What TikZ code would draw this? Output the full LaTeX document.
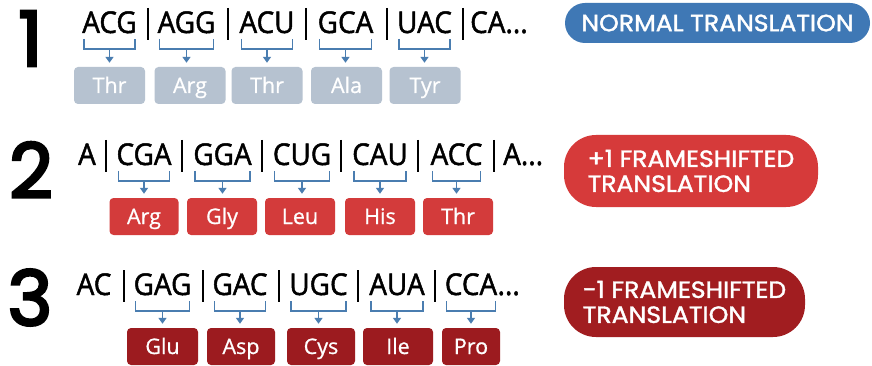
\documentclass[tikz,border=0pt]{standalone}
\usepackage{fontspec}
\setmainfont{Open Sans}
\newfontfamily\codonfont{Open Sans}[FakeBold=1.6,FakeStretch=0.93]
\newfontfamily\aafont{Open Sans}[FakeBold=0.8]
\newfontfamily\numfont{Poppins}[FakeBold=3.5]
\newfontfamily\badgefont{Poppins}[FakeBold=1.6,FakeStretch=1.07]
\usetikzlibrary{arrows.meta,calc}
\definecolor{brk}{HTML}{4A7DB0}
\definecolor{boxA}{HTML}{B6C2D0}
\definecolor{boxB}{HTML}{D33B3B}
\definecolor{boxC}{HTML}{9C1B1F}
\definecolor{badgeA}{HTML}{3F78B5}
\definecolor{badgeB}{HTML}{D63A3A}
\definecolor{badgeC}{HTML}{A11D20}
\tikzset{
  codon/.style={anchor=base,inner sep=0pt,font=\codonfont\fontsize{30}{32}\selectfont},
  sepbar/.style={line width=1.5pt,black},
  br/.style={draw=brk,line width=1.5pt},
  aa/.style={rounded corners=4pt,minimum width=71pt,minimum height=37pt,inner sep=0pt,
    text=white,text height=15pt,text depth=0pt,font=\aafont\fontsize{21.5}{22}\selectfont},
  num/.style={font=\numfont\fontsize{76}{76}\selectfont,inner sep=0pt},
  badge/.style={text=white,align=left,inner sep=0pt,font=\badgefont\fontsize{23.5}{25}\selectfont}
}
\newcommand\codonbr[2]{%
  \draw[br] ([xshift=2pt,yshift=-6pt]#1.base west) -- ([xshift=2pt,yshift=-16pt]#1.base west)
     -- ([xshift=-2pt,yshift=-16pt]#1.base east) -- ([xshift=-2pt,yshift=-6pt]#1.base east);
  \draw[br,-{Triangle[width=8pt,length=6pt]}] ([yshift=-16pt]#1.base) -- ([yshift=4pt]#1.base |- #2.north);
}
\newcommand\sepat[2]{\draw[sepbar] (#1,#2-25) -- (#1,#2+7);}
\begin{document}
\begin{tikzpicture}[x=1pt,y=-1pt]
\useasboundingbox (0,0) rectangle (872,366);
\fill[white] (0,0) rectangle (872,366);
% numbers
\node[num] (n1) at (30.5,38.5) {1};
\node[num] (n2) at (31,170) {2};
\node[num] (n3) at (30,297.5) {3};
% ---- row 1
\node[codon] (a1) at (109.5,33) {ACG};
\node[codon] (a2) at (186.5,33) {AGG};
\node[codon] (a3) at (267,33) {ACU};
\node[codon] (a4) at (345.5,33) {GCA};
\node[codon] (a5) at (424.5,33) {UAC};
\node[codon,anchor=base west] (a6) at (470,33) {CA...};
\foreach \x in {148,228,306,387,463} {\sepat{\x}{33}}
\node[aa,fill=boxA] (p1) at (109.5,85.5) {Thr};
\node[aa,fill=boxA] (p2) at (190,85.5) {Arg};
\node[aa,fill=boxA] (p3) at (267,85.5) {Thr};
\node[aa,fill=boxA] (p4) at (346.5,85.5) {Ala};
\node[aa,fill=boxA] (p5) at (425,85.5) {Tyr};
\codonbr{a1}{p1}\codonbr{a2}{p2}\codonbr{a3}{p3}\codonbr{a4}{p4}\codonbr{a5}{p5}
% ---- row 2
\node[codon] (b0) at (87,165) {A};
\node[codon] (b1) at (144,165) {CGA};
\node[codon] (b2) at (222.5,165) {GGA};
\node[codon] (b3) at (302,165) {CUG};
\node[codon] (b4) at (380,165) {CAU};
\node[codon] (b5) at (456.5,165) {ACC};
\node[codon,anchor=base west] (b6) at (503,165) {A...};
\foreach \x in {106,182,262,341,418,494} {\sepat{\x}{165}}
\node[aa,fill=boxB,minimum width=69pt] (q1) at (144,216.5) {Arg};
\node[aa,fill=boxB,minimum width=70pt] (q2) at (222,216.5) {Gly};
\node[aa,fill=boxB,minimum width=70pt] (q3) at (300,216.5) {Leu};
\node[aa,fill=boxB,minimum width=70pt] (q4) at (380,216.5) {His};
\node[aa,fill=boxB,minimum width=70pt] (q5) at (458,216.5) {Thr};
\codonbr{b1}{q1}\codonbr{b2}{q2}\codonbr{b3}{q3}\codonbr{b4}{q4}\codonbr{b5}{q5}
% ---- row 3
\node[codon] (c0) at (94,295) {AC};
\node[codon] (c1) at (162.5,295) {GAG};
\node[codon] (c2) at (240,295) {GAC};
\node[codon] (c3) at (318.5,295) {UGC};
\node[codon] (c4) at (397,295) {AUA};
\node[codon] (c5) at (471,295) {CCA};
\node[codon,anchor=base west] (c6) at (c5.base east) {...};
\foreach \x in {124,203,279,358,435} {\sepat{\x}{295}}
\node[aa,fill=boxC] (r1) at (162.5,346.5) {Glu};
\node[aa,fill=boxC,minimum width=68pt] (r2) at (241,346.5) {Asp};
\node[aa,fill=boxC,minimum width=68pt] (r3) at (321,346.5) {Cys};
\node[aa,fill=boxC,minimum width=70pt] (r4) at (398,346.5) {Ile};
\node[aa,fill=boxC,minimum width=58pt] (r5) at (471,346.5) {Pro};
\codonbr{c1}{r1}\codonbr{c2}{r2}\codonbr{c3}{r3}\codonbr{c4}{r4}\codonbr{c5}{r5}
% ---- badges
\node[badge,fill=badgeA,rounded corners=20pt,minimum width=305pt,minimum height=40pt] (g1) at (717.5,23) {NORMAL TRANSLATION};
\node[badge,fill=badgeB,rounded corners=32pt,minimum width=254pt,minimum height=72pt] (g2) at (691,171) {+1 FRAMESHIFTED\\TRANSLATION};
\node[badge,fill=badgeC,rounded corners=32pt,minimum width=241pt,minimum height=70pt] (g3) at (684.5,302) {-1 FRAMESHIFTED\\TRANSLATION};
\end{tikzpicture}
\end{document}
